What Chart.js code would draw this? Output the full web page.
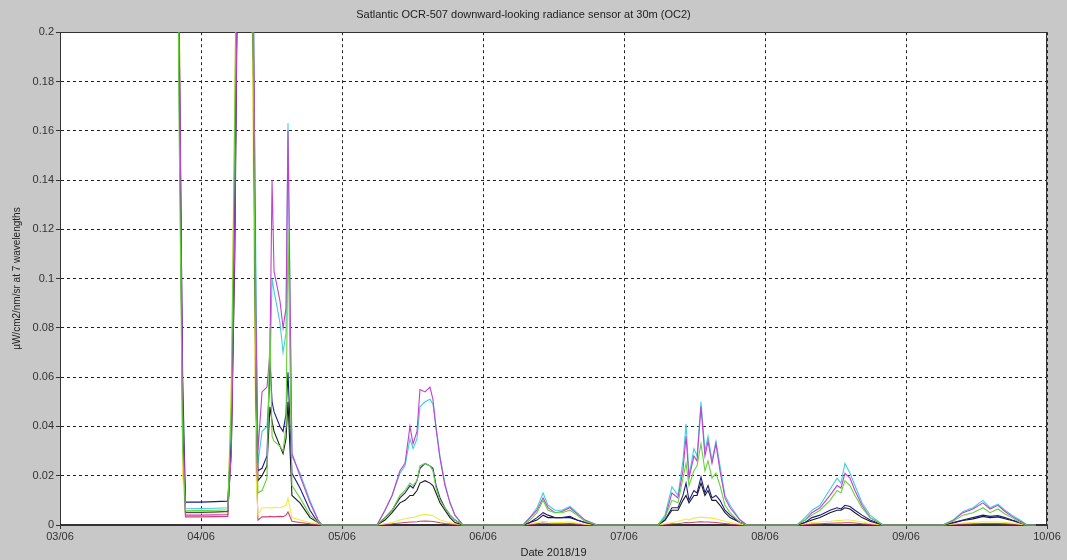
<!DOCTYPE html>
<html>
<head>
<meta charset="utf-8">
<script src="https://cdn.jsdelivr.net/npm/chart.js@4.4.0/dist/chart.umd.min.js"></script>
<style>
  html, body { margin: 0; padding: 0; background: #c8c8c8; }
  #wrap { width: 1067px; height: 560px; }
</style>
</head>
<body>
<div id="wrap"><canvas id="chart" width="1067" height="560"></canvas></div>
<script>
// Days since 03/06 (one shared time base for all 7 wavelengths)
const times = [
  0.82, 0.845, 0.87, 0.89, 1.00, 1.10, 1.19, 1.215, 1.24, 1.27, 1.36, 1.39,
  1.404, 1.433, 1.468, 1.489, 1.504, 1.518, 1.560, 1.582, 1.603, 1.617, 1.645, 1.702, 1.773, 1.830, 1.858,
  2.248, 2.305, 2.355, 2.411, 2.447, 2.482, 2.504, 2.532, 2.553, 2.589, 2.624, 2.645, 2.667, 2.695, 2.730, 2.766, 2.801, 2.858,
  3.284, 3.333, 3.383, 3.426, 3.461, 3.511, 3.560, 3.617, 3.667, 3.723, 3.809,
  4.241, 4.291, 4.340, 4.383, 4.418, 4.440, 4.461, 4.496, 4.518, 4.546, 4.574, 4.596, 4.624, 4.652, 4.681, 4.716, 4.752, 4.823, 4.872,
  5.227, 5.284, 5.333, 5.390, 5.461, 5.511, 5.539, 5.567, 5.603, 5.638, 5.688, 5.745, 5.837,
  6.262, 6.333, 6.404, 6.475, 6.546, 6.596, 6.652, 6.702, 6.752, 6.809, 6.858, 6.92
];

const greenValues = [
  0.34, 0.16, 0.03, 0.0060, 0.0059, 0.0060, 0.0062, 0.05, 0.17, 0.33, 0.26, 0.05,
  0.013, 0.014, 0.019, 0.080, 0.036, 0.034, 0.032, 0.030, 0.040, 0.120, 0.016, 0.011, 0.004, 0.001, 0,
  0, 0.003, 0.006, 0.012, 0.014, 0.017, 0.016, 0.018, 0.024, 0.025, 0.024, 0.022, 0.015, 0.010, 0.007, 0.004, 0.002, 0,
  0, 0.002, 0.005, 0.010, 0.006, 0.005, 0.005, 0.006, 0.004, 0.0015, 0,
  0, 0.003, 0.010, 0.009, 0.019, 0.025, 0.016, 0.022, 0.024, 0.033, 0.022, 0.026, 0.019, 0.021, 0.016, 0.008, 0.005, 0.001, 0,
  0, 0.002, 0.004, 0.006, 0.010, 0.014, 0.013, 0.018, 0.016, 0.012, 0.007, 0.003, 0,
  0, 0.0015, 0.004, 0.005, 0.007, 0.005, 0.0065, 0.0045, 0.003, 0.001, 0, 0
];

const magentaValues = [
  0.32, 0.21, 0.05, 0.0040, 0.0040, 0.0041, 0.0042, 0.03, 0.12, 0.30, 0.30, 0.08,
  0.030, 0.054, 0.056, 0.070, 0.140, 0.103, 0.091, 0.080, 0.088, 0.160, 0.029, 0.020, 0.009, 0.002, 0,
  0, 0.006, 0.012, 0.022, 0.025, 0.040, 0.033, 0.038, 0.055, 0.054, 0.056, 0.051, 0.039, 0.027, 0.016, 0.009, 0.004, 0,
  0, 0.003, 0.006, 0.011, 0.007, 0.005, 0.0055, 0.007, 0.0045, 0.002, 0,
  0, 0.003, 0.013, 0.011, 0.022, 0.036, 0.019, 0.028, 0.026, 0.048, 0.028, 0.034, 0.025, 0.033, 0.022, 0.011, 0.007, 0.002, 0,
  0, 0.002, 0.005, 0.007, 0.012, 0.016, 0.015, 0.021, 0.019, 0.014, 0.008, 0.003, 0,
  0, 0.0018, 0.005, 0.0065, 0.009, 0.0065, 0.008, 0.0055, 0.0035, 0.0015, 0, 0
];

const blueValues = [
  0.31, 0.20, 0.06, 0.0093, 0.0093, 0.0095, 0.0097, 0.035, 0.13, 0.29, 0.28, 0.06,
  0.022, 0.023, 0.028, 0.067, 0.050, 0.046, 0.040, 0.038, 0.045, 0.062, 0.021, 0.015, 0.006, 0.001, 0,
  0, 0.003, 0.006, 0.011, 0.013, 0.016, 0.015, 0.018, 0.023, 0.025, 0.024, 0.023, 0.016, 0.011, 0.007, 0.004, 0.002, 0,
  0, 0.001, 0.003, 0.005, 0.004, 0.003, 0.003, 0.0035, 0.002, 0.001, 0,
  0, 0.002, 0.007, 0.007, 0.012, 0.017, 0.010, 0.014, 0.013, 0.0195, 0.013, 0.016, 0.011, 0.012, 0.010, 0.006, 0.004, 0.001, 0,
  0, 0.001, 0.003, 0.004, 0.006, 0.007, 0.0065, 0.008, 0.0075, 0.006, 0.004, 0.002, 0,
  0, 0.001, 0.002, 0.003, 0.004, 0.0035, 0.0038, 0.003, 0.002, 0.001, 0, 0
];

const blackValues = [
  0.33, 0.18, 0.045, 0.0052, 0.0052, 0.0053, 0.0055, 0.03, 0.11, 0.30, 0.27, 0.05,
  0.018, 0.020, 0.024, 0.048, 0.042, 0.038, 0.032, 0.029, 0.035, 0.050, 0.012, 0.009, 0.003, 0.001, 0,
  0, 0.002, 0.005, 0.009, 0.010, 0.012, 0.012, 0.014, 0.017, 0.018, 0.017, 0.016, 0.013, 0.009, 0.006, 0.003, 0.001, 0,
  0, 0.001, 0.002, 0.004, 0.003, 0.003, 0.003, 0.003, 0.002, 0.001, 0,
  0, 0.002, 0.006, 0.006, 0.010, 0.012, 0.009, 0.012, 0.012, 0.017, 0.012, 0.014, 0.010, 0.010, 0.008, 0.005, 0.003, 0.001, 0,
  0, 0.001, 0.002, 0.003, 0.005, 0.006, 0.006, 0.007, 0.0065, 0.005, 0.003, 0.0015, 0,
  0, 0.0008, 0.0018, 0.0025, 0.0035, 0.003, 0.0033, 0.0025, 0.0018, 0.0008, 0, 0
];

const cyanValues = [
  0.30, 0.19, 0.04, 0.0068, 0.0067, 0.0068, 0.0070, 0.04, 0.14, 0.31, 0.29, 0.10,
  0.025, 0.038, 0.040, 0.060, 0.100, 0.095, 0.082, 0.070, 0.078, 0.163, 0.028, 0.021, 0.010, 0.002, 0,
  0, 0.006, 0.012, 0.021, 0.024, 0.035, 0.031, 0.035, 0.048, 0.050, 0.051, 0.049, 0.040, 0.028, 0.017, 0.009, 0.004, 0,
  0, 0.003, 0.007, 0.013, 0.008, 0.006, 0.006, 0.0075, 0.005, 0.002, 0,
  0, 0.004, 0.0155, 0.012, 0.026, 0.041, 0.020, 0.031, 0.028, 0.050, 0.030, 0.036, 0.026, 0.034, 0.024, 0.012, 0.008, 0.002, 0,
  0, 0.003, 0.006, 0.008, 0.0145, 0.019, 0.017, 0.025, 0.021, 0.016, 0.009, 0.004, 0,
  0, 0.002, 0.0055, 0.007, 0.010, 0.007, 0.0085, 0.006, 0.004, 0.002, 0, 0
];

const yellowValues = [
  0.29, 0.22, 0.02, 0.0048, 0.0048, 0.0049, 0.0050, 0.06, 0.18, 0.32, 0.22, 0.02,
  0.004, 0.007, 0.007, 0.007, 0.0068, 0.0072, 0.0070, 0.0075, 0.008, 0.011, 0.003, 0.002, 0.001, 0.0005, 0,
  0, 0.0005, 0.001, 0.002, 0.0025, 0.003, 0.003, 0.0035, 0.004, 0.0042, 0.004, 0.0038, 0.003, 0.002, 0.0015, 0.001, 0.0005, 0,
  0, 0.0005, 0.001, 0.0015, 0.0012, 0.001, 0.001, 0.0012, 0.0008, 0.0003, 0,
  0, 0.0005, 0.001, 0.0015, 0.002, 0.0025, 0.002, 0.0028, 0.003, 0.0032, 0.003, 0.003, 0.0028, 0.0025, 0.002, 0.0015, 0.001, 0.0003, 0,
  0, 0.0005, 0.001, 0.0012, 0.0015, 0.0018, 0.0018, 0.002, 0.002, 0.0017, 0.0012, 0.0006, 0,
  0, 0.0004, 0.0008, 0.001, 0.0013, 0.0012, 0.0012, 0.001, 0.0008, 0.0003, 0, 0
];

const redValues = [
  0.30, 0.20, 0.03, 0.0033, 0.0033, 0.0034, 0.0035, 0.04, 0.15, 0.31, 0.25, 0.03,
  0.002, 0.0033, 0.0033, 0.0035, 0.0034, 0.0033, 0.0035, 0.0034, 0.0040, 0.0053, 0.0015, 0.001, 0.0005, 0.0002, 0,
  0, 0.0003, 0.0005, 0.0008, 0.001, 0.0012, 0.0012, 0.0013, 0.0015, 0.0016, 0.0015, 0.0014, 0.0012, 0.0009, 0.0006, 0.0004, 0.0002, 0,
  0, 0.0002, 0.0005, 0.0008, 0.0006, 0.0005, 0.0005, 0.0006, 0.0004, 0.0002, 0,
  0, 0.0002, 0.0005, 0.0006, 0.0008, 0.001, 0.0009, 0.0011, 0.0012, 0.0013, 0.0012, 0.0012, 0.0011, 0.001, 0.0008, 0.0006, 0.0004, 0.0001, 0,
  0, 0.0002, 0.0004, 0.0005, 0.0007, 0.0008, 0.0008, 0.0009, 0.0009, 0.0008, 0.0005, 0.0003, 0,
  0, 0.0002, 0.0004, 0.0005, 0.0006, 0.0006, 0.0006, 0.0005, 0.0004, 0.0002, 0, 0
];

const dateLabels = ['03/06', '04/06', '05/06', '06/06', '07/06', '08/06', '09/06', '10/06'];

// first dataset ends up drawn on top
const seriesList = [
  { values: greenValues, color: '#66d13a' },
  { values: magentaValues, color: '#c040d0' },
  { values: blueValues, color: '#1c1c8c' },
  { values: blackValues, color: '#1a1a1a' },
  { values: cyanValues, color: '#40d0d8' },
  { values: yellowValues, color: '#f0ec40' },
  { values: redValues, color: '#d04070' }
];

const fontFamily = '"Liberation Sans", Arial, sans-serif';

// Grey figure, white axes box with a black frame (drawn under the lines)
const framePlugin = {
  id: 'frame',
  beforeDraw(chart) {
    const { ctx, chartArea: a } = chart;
    ctx.save();
    ctx.fillStyle = '#ffffff';
    ctx.fillRect(a.left, a.top, a.right - a.left, a.bottom - a.top);
    ctx.restore();
  },
  beforeDatasetsDraw(chart) {
    const { ctx, chartArea: a } = chart;
    ctx.save();
    ctx.strokeStyle = '#333333';
    ctx.lineWidth = 1;
    ctx.strokeRect(Math.round(a.left) + 0.5, Math.round(a.top) + 0.5,
      Math.round(a.right - a.left) - 1, Math.round(a.bottom - a.top) - 1);
    ctx.restore();
  }
};

const ctx = document.getElementById('chart').getContext('2d');

new Chart(ctx, {
  type: 'line',
  data: {
    datasets: seriesList.map(s => ({
      data: times.map((t, i) => ({ x: t, y: s.values[i] })),
      borderColor: s.color,
      borderWidth: 1.1,
      pointRadius: 0,
      tension: 0,
      fill: false,
      clip: { left: 0, top: 0, right: 0, bottom: 2 }
    }))
  },
  options: {
    responsive: false,
    animation: false,
    layout: { padding: { left: 0, right: 20, top: 0, bottom: 0 } },
    plugins: {
      legend: { display: false },
      tooltip: { enabled: false },
      title: {
        display: true,
        text: 'Satlantic OCR-507 downward-looking radiance sensor at 30m (OC2)',
        color: '#222',
        font: { family: fontFamily, size: 11, weight: 'normal' },
        padding: { top: 8, bottom: 11 }
      }
    },
    scales: {
      x: {
        type: 'linear',
        min: 0,
        max: 7,
        afterFit: s => { s.height = 35; },
        ticks: {
          stepSize: 1,
          color: '#333',
          font: { family: fontFamily, size: 11 },
          padding: 1,
          maxRotation: 0,
          callback: v => dateLabels[Math.round(v)]
        },
        grid: { color: '#222', tickColor: '#333', tickLength: 4, drawTicks: true },
        border: { display: true, color: '#333', dash: [3, 3] },
        title: {
          display: true,
          text: 'Date 2018/19',
          color: '#222',
          font: { family: fontFamily, size: 11 },
          padding: { top: 0, bottom: 0 }
        }
      },
      y: {
        min: 0,
        max: 0.2,
        afterFit: s => { s.width = 60; },
        ticks: {
          stepSize: 0.02,
          color: '#333',
          font: { family: fontFamily, size: 11 },
          padding: 2,
          callback: v => String(parseFloat(v.toFixed(2)))
        },
        grid: { color: '#222', tickColor: '#333', tickLength: 4, drawTicks: true },
        border: { display: true, color: '#333', dash: [3, 3] },
        title: {
          display: true,
          text: 'µW/cm2/nm/sr at 7 wavelengths',
          color: '#222',
          font: { family: fontFamily, size: 10 },
          padding: { top: 11, bottom: 2 }
        }
      }
    }
  },
  plugins: [framePlugin]
});
</script>
</body>
</html>
